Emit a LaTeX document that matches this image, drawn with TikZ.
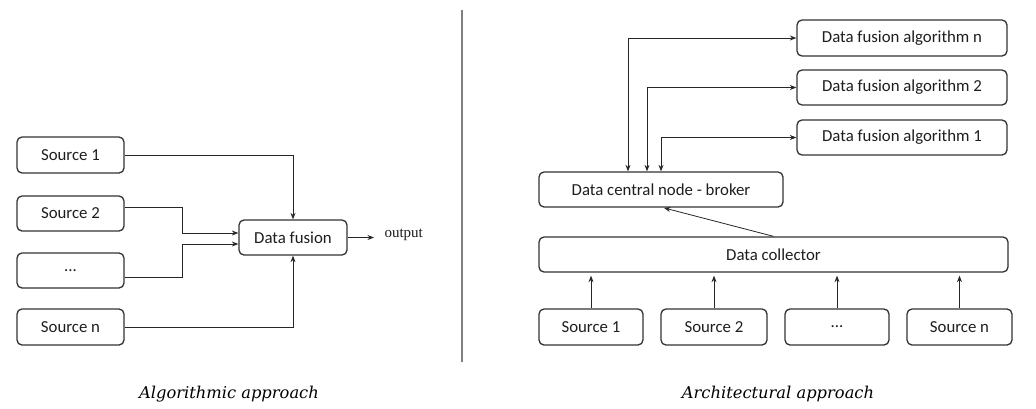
\documentclass[tikz,border=0pt]{standalone}
\usepackage{fontspec}
\setmainfont{Carlito}
\newfontfamily\capfont{DejaVu Serif}
\newfontfamily\outfont{Liberation Serif}
\usetikzlibrary{arrows.meta}
\definecolor{boxline}{HTML}{333333}
\definecolor{txt}{HTML}{1E1E1E}
\begin{document}
\begin{tikzpicture}[x=1pt,y=-1pt,
  box/.style={draw=boxline,line width=1.3pt,rounded corners=5pt,inner sep=0pt,
    font=\fontsize{16.8}{18}\selectfont,text=txt},
  conn/.style={draw=black!85,line width=0.8pt,-{Stealth[length=6.5pt,width=5pt]}},
  biconn/.style={draw=black!85,line width=0.8pt,{Stealth[length=6.5pt,width=5pt]}-{Stealth[length=6.5pt,width=5pt]}},
  caption/.style={font=\capfont\itshape\fontsize{16.3}{18}\selectfont,text=black}]
\useasboundingbox (0,0) rectangle (1036,408);
\fill[white] (0,0) rectangle (1036,408);
% ---------- left: algorithmic approach
\node[box,minimum width=107pt,minimum height=36pt] (s1) at (70.5,155) {Source 1};
\node[box,minimum width=107pt,minimum height=35pt] (s2) at (70.5,213.5) {Source 2};
\node[box,minimum width=107pt,minimum height=35pt] (sd) at (70.5,270.5) {...};
\node[box,minimum width=107pt,minimum height=36pt] (sn) at (70.5,327) {Source n};
\node[box,minimum width=108pt,minimum height=35pt] (df) at (293,237.5) {Data fusion};
\coordinate (jl) at (182,0);
\coordinate (outend) at (374,237.5);
\node[anchor=west,font=\outfont\fontsize{15}{17}\selectfont,text=txt] (out) at (381,235) {output};
\draw[conn] (s1.east) -| (df.north);
\draw[conn] ([yshift=6pt]s2.east) -| (jl |- 0,233) -- ([yshift=4.5pt]df.west);
\draw[conn] ([yshift=-6.5pt]sd.east) -| (jl |- 0,244) -- ([yshift=-6.5pt]df.west);
\draw[conn] (sn.east) -| (df.south);
\draw[conn] (df.east) -- (outend);
% ---------- divider
\coordinate (dtop) at (462,10);
\coordinate (dbot) at (462,362);
\draw[gray,line width=1.5pt] (dtop) -- (dbot);
% ---------- right: architectural approach
\node[box,minimum width=210pt,minimum height=36pt] (an) at (902,38) {Data fusion algorithm n};
\node[box,minimum width=210pt,minimum height=35pt] (a2) at (902,87.5) {Data fusion algorithm 2};
\node[box,minimum width=210pt,minimum height=35pt] (a1) at (902,137.5) {Data fusion algorithm 1};
\node[box,minimum width=244pt,minimum height=35pt] (br) at (661,189.5) {Data central node - broker};
\node[box,minimum width=469pt,minimum height=35pt] (dc) at (773.5,254.5) {Data collector};
\node[box,minimum width=104pt,minimum height=36pt] (r1) at (591,327) {Source 1};
\node[box,minimum width=106pt,minimum height=36pt] (r2) at (714,327) {Source 2};
\node[box,minimum width=104pt,minimum height=36pt] (rd) at (837,327) {...};
\node[box,minimum width=105pt,minimum height=36pt] (rn) at (959.5,327) {Source n};
\draw[biconn] (an.west) -| ([xshift=-33pt]br.north);
\draw[biconn] (a2.west) -| ([xshift=-14pt]br.north);
\draw[biconn] (a1.west) -| (br.north);
\draw[conn,shorten >=1pt] (dc.north) -- ([xshift=2pt]br.south);
\foreach \s in {r1,r2,rd,rn}{
  \draw[conn,shorten >=3pt] (\s.north) -- (\s.north |- dc.south);
}
% ---------- captions
\node[caption] (capl) at (229,394) {Algorithmic approach};
\node[caption] (capr) at (778,394) {Architectural approach};
\end{tikzpicture}
\end{document}
